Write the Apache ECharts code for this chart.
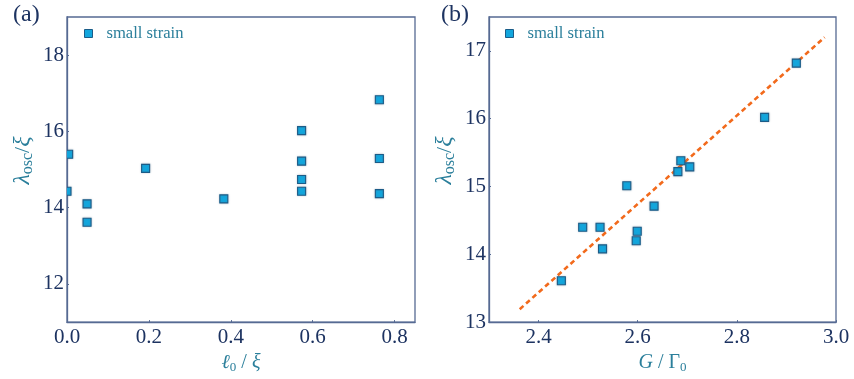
<!DOCTYPE html>
<html>
<head>
<meta charset="utf-8">
<script src="https://cdn.jsdelivr.net/npm/echarts@6/dist/echarts.min.js"></script>
<style>
  html, body { margin: 0; padding: 0; background: #ffffff; }
  #chart { width: 854px; height: 379px; }
</style>
</head>
<body>
<div id="chart"></div>
<script>
// Panel (a): oscillation wavelength vs. interface width
const l0OverXi = [0.0, 0.004, 0.049, 0.049, 0.192, 0.383, 0.573, 0.573, 0.573, 0.573, 0.763, 0.763, 0.763];
const lambdaA  = [14.43, 15.40, 14.10, 13.62, 15.03, 14.23, 16.02, 15.22, 14.74, 14.43, 16.83, 15.29, 14.37];

// Panel (b): oscillation wavelength vs. G / Gamma0, with linear fit
const gOverGamma = [2.446, 2.489, 2.524, 2.529, 2.578, 2.597, 2.599, 2.633, 2.681, 2.687, 2.705, 2.856, 2.920];
const lambdaB    = [13.61, 14.40, 14.40, 14.08, 15.01, 14.20, 14.34, 14.71, 15.22, 15.38, 15.29, 16.02, 16.82];
const fitG       = [2.362, 2.977];
const fitLambda  = [13.19, 17.20];

// Tick values
const yTicksA = [12, 14, 16, 18];
const xTicksB = [2.4, 2.6, 2.8, 3.0];

const SERIF = 'Liberation Serif';
const NAVY = '#1d3361';
const FRAME = '#566a93';
const TEAL = '#2b7f9b';
const FILL = '#12a6dd';
const EDGE = '#1b5c88';
const ORANGE = '#f26a1c';

const pairs = (xs, ys) => xs.map((x, i) => [x, ys[i]]);

// Square markers drawn as a custom series so that the plot area clips them
function squareItem(params, api) {
  const p = api.coord([api.value(0), api.value(1)]);
  const s = 8;
  return {
    type: 'rect',
    shape: { x: p[0] - s / 2, y: p[1] - s / 2, width: s, height: s },
    style: {
      fill: FILL, stroke: EDGE, lineWidth: 1.1,
      shadowBlur: 2, shadowColor: 'rgba(90,110,130,0.35)'
    }
  };
}

const richX = {
  i:   { fontFamily: SERIF, fontStyle: 'italic', fontSize: 20, color: TEAL },
  n:   { fontFamily: SERIF, fontSize: 20, color: TEAL },
  sub: { fontFamily: SERIF, fontSize: 13, color: TEAL, padding: [9, 0, 0, 0] }
};
const richY = {
  i:   { fontFamily: SERIF, fontStyle: 'italic', fontSize: 24, color: TEAL },
  n:   { fontFamily: SERIF, fontSize: 22, color: TEAL },
  sub: { fontFamily: SERIF, fontSize: 16, color: TEAL, padding: [10, 0, 0, 0] }
};

const tickLabel = { fontFamily: SERIF, fontSize: 21, color: NAVY };

function valueAxisCommon(rich) {
  return {
    type: 'value',
    axisLine: { show: true, lineStyle: { color: FRAME, width: 1.3 } },
    axisTick: { show: true, inside: true, length: 2, lineStyle: { color: FRAME, width: 1 } },
    splitLine: { show: false },
    nameLocation: 'middle',
    nameTextStyle: { rich: rich }
  };
}

const legendItem = {
  name: 'small strain',
  icon: 'rect',
  itemStyle: { color: FILL, borderColor: EDGE, borderWidth: 1 }
};
const legendText = { fontFamily: SERIF, fontSize: 16.6, color: TEAL, padding: [0, 0, 0, 9] };

const chart = echarts.init(document.getElementById('chart'), null, { renderer: 'canvas' });

chart.setOption({
  backgroundColor: '#ffffff',
  animation: false,
  title: [
    { text: '(a)', left: 8, top: -2, textStyle: { fontFamily: SERIF, fontSize: 24, fontWeight: 'normal', color: NAVY } },
    { text: '(b)', left: 436, top: -2, textStyle: { fontFamily: SERIF, fontSize: 24, fontWeight: 'normal', color: NAVY } }
  ],
  legend: [
    { data: [legendItem], left: 79, top: 20, itemWidth: 8, itemHeight: 8, selectedMode: false, textStyle: legendText },
    { data: [legendItem], left: 500, top: 20, itemWidth: 8, itemHeight: 8, selectedMode: false, textStyle: legendText }
  ],
  grid: [
    { left: 67, top: 17, width: 348, height: 310, show: true, borderColor: FRAME, borderWidth: 1.3, backgroundColor: 'transparent' },
    { left: 489, top: 17, width: 347, height: 310, show: true, borderColor: FRAME, borderWidth: 1.3, backgroundColor: 'transparent' }
  ],
  xAxis: [
    Object.assign(valueAxisCommon(richX), {
      gridIndex: 0, min: 0, max: 0.85, interval: 0.2,
      name: '{i|ℓ}{sub|0}{n| / }{i|ξ}', nameGap: 28,
      axisLabel: Object.assign({ margin: 5, formatter: v => v.toFixed(1), showMaxLabel: false }, tickLabel)
    }),
    Object.assign(valueAxisCommon(richX), {
      gridIndex: 1, min: 2.3, max: 3.0,
      name: '{i|G}{n| / Γ}{sub|0}', nameGap: 28,
      axisTick: { show: true, inside: true, length: 2, lineStyle: { color: FRAME, width: 1 }, customValues: xTicksB },
      axisLabel: Object.assign({ margin: 5, formatter: v => v.toFixed(1), customValues: xTicksB }, tickLabel)
    })
  ],
  yAxis: [
    Object.assign(valueAxisCommon(richY), {
      gridIndex: 0, min: 11, max: 19,
      name: '{i|λ}{sub|osc}{n|/}{i|ξ}', nameGap: 31,
      nameTextStyle: { rich: richY, padding: [0, 0, 0, 18] },
      axisTick: { show: true, inside: true, length: 2, lineStyle: { color: FRAME, width: 1 }, customValues: yTicksA },
      axisLabel: Object.assign({ margin: 3, customValues: yTicksA }, tickLabel)
    }),
    Object.assign(valueAxisCommon(richY), {
      gridIndex: 1, min: 13, max: 17.5, interval: 1,
      name: '{i|λ}{sub|osc}{n|/}{i|ξ}', nameGap: 31,
      nameTextStyle: { rich: richY, padding: [0, 0, 0, 18] },
      axisLabel: Object.assign({ margin: 3, showMaxLabel: false }, tickLabel)
    })
  ],
  series: [
    {
      name: 'small strain', type: 'custom', xAxisIndex: 0, yAxisIndex: 0,
      clip: true, renderItem: squareItem,
      itemStyle: { color: FILL },
      encode: { x: 0, y: 1 },
      data: pairs(l0OverXi, lambdaA), z: 3
    },
    {
      name: 'fit', type: 'line', xAxisIndex: 1, yAxisIndex: 1,
      showSymbol: false, symbol: 'none',
      lineStyle: { color: ORANGE, width: 2.6, type: [5, 3.5] },
      data: pairs(fitG, fitLambda), z: 2
    },
    {
      name: 'small strain', type: 'custom', xAxisIndex: 1, yAxisIndex: 1,
      clip: true, renderItem: squareItem,
      itemStyle: { color: FILL },
      encode: { x: 0, y: 1 },
      data: pairs(gOverGamma, lambdaB), z: 3
    }
  ]
});
</script>
</body>
</html>
